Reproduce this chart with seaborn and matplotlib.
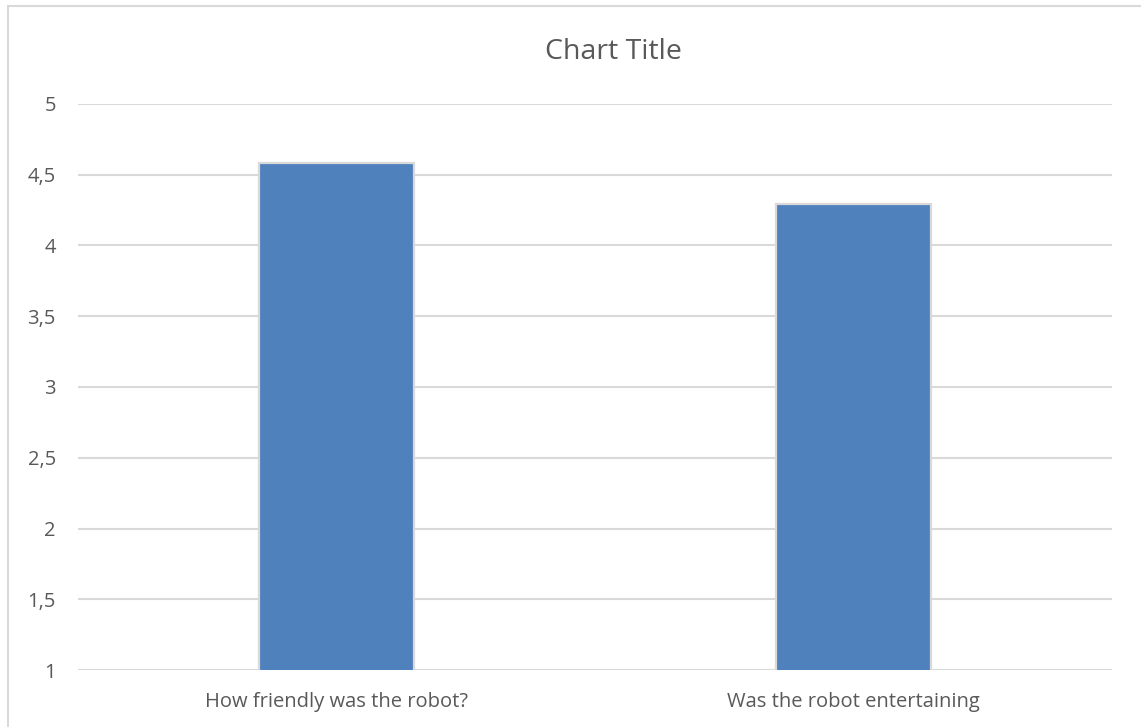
import matplotlib
matplotlib.use("Agg")
import matplotlib.pyplot as plt
import seaborn as sns
import pandas as pd
from matplotlib.patches import Rectangle

categories = ["How friendly was the robot?", "Was the robot entertaining"]
values = [4.58, 4.29]
ytick_values = [1, 1.5, 2, 2.5, 3, 3.5, 4, 4.5, 5]
ytick_labels = ["1", "1,5", "2", "2,5", "3", "3,5", "4", "4,5", "5"]
title = "Chart Title"

df = pd.DataFrame({"question": categories, "score": values})

sns.set_theme(style="white")
plt.rcParams['font.family'] = ['Open Sans', 'DejaVu Sans']

W, H = 1141, 727
fig = plt.figure(figsize=(W / 100, H / 100), dpi=100)
ax = fig.add_axes([78 / W, (H - 670) / H, (1112 - 78) / W, (670 - 104) / H])

sns.barplot(data=df, x="question", y="score", ax=ax, color="#4F81BD",
            saturation=1, width=0.30, edgecolor="#D9D9D9", linewidth=1.6, zorder=3)

ax.set_ylim(1, 5)
ax.set_yticks(ytick_values)
ax.set_yticklabels(ytick_labels)
ax.grid(axis="y", color="#D9D9D9", linewidth=1.5, zorder=0)
ax.set_axisbelow(True)
for s in ax.spines.values():
    s.set_visible(False)
ax.set_xlabel("")
ax.set_ylabel("")
ax.tick_params(axis="both", length=0, labelsize=14.5, labelcolor="#595959")
ax.tick_params(axis="y", pad=16)
ax.tick_params(axis="x", pad=16)

fig.text((545 + 681) / 2 / W, 1 - 52 / H, title, ha="center", va="center",
         fontsize=20.5, color="#595959")

fig.patches.append(Rectangle((8 / W, -0.05), 1.1, 1 - 6 / H + 0.05,
                             transform=fig.transFigure, fill=False,
                             edgecolor="#D9D9D9", linewidth=1.5))

fig.savefig("out.png", dpi=100, facecolor="white")
